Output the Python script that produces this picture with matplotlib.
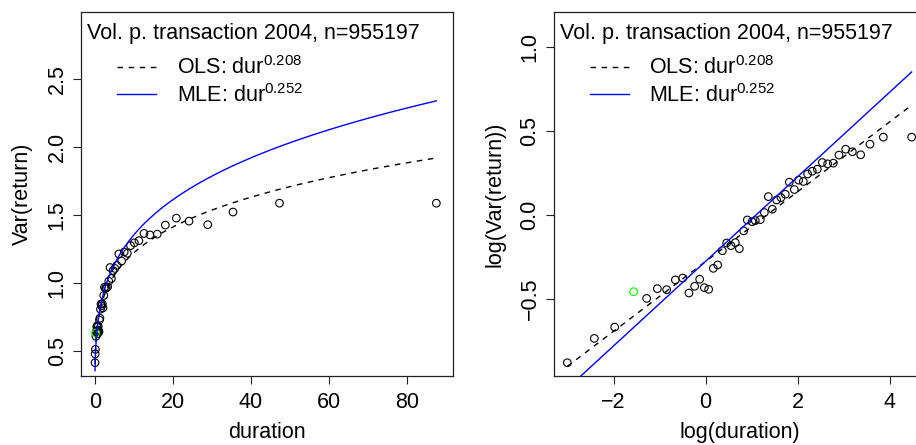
import numpy as np
import matplotlib
matplotlib.use("Agg")
import matplotlib.pyplot as plt

plt.rcParams["font.family"] = ["Liberation Sans", "DejaVu Sans"]
plt.rcParams["mathtext.fontset"] = "custom"
plt.rcParams["mathtext.rm"] = "Liberation Sans"
plt.rcParams["mathtext.it"] = "Liberation Sans:italic"
plt.rcParams["mathtext.bf"] = "Liberation Sans:bold"

# binned log(duration) / log(variance of returns)
log_duration = [-3.003, -2.417, -1.975, -1.281, -1.049, -0.847, -0.658, -0.499,
                -0.362, -0.239, -0.130, -0.029, 0.065, 0.166, 0.260, 0.362,
                0.456, 0.550, 0.644, 0.731, 0.825, 0.904, 1.006, 1.078,
                1.187, 1.274, 1.360, 1.447, 1.541, 1.635, 1.729, 1.816,
                1.925, 2.019, 2.120, 2.214, 2.315, 2.424, 2.533, 2.648,
                2.771, 2.894, 3.039, 3.184, 3.365, 3.567, 3.857, 4.472]
log_var = [-0.882, -0.737, -0.670, -0.499, -0.441, -0.447, -0.389, -0.378,
           -0.467, -0.427, -0.385, -0.435, -0.445, -0.320, -0.300, -0.215,
           -0.169, -0.185, -0.167, -0.203, -0.097, -0.032, -0.042, -0.036,
           -0.030, 0.012, 0.107, 0.032, 0.087, 0.101, 0.121, 0.193,
           0.149, 0.205, 0.197, 0.242, 0.258, 0.270, 0.310, 0.302,
           0.306, 0.354, 0.389, 0.374, 0.356, 0.419, 0.461, 0.461]

# highlighted bin
hl_log_duration = [-1.563]
hl_log_var = [-0.459]

# fitted power laws: Var = exp(c) * dur^b
ols_const, ols_exp = -0.279, 0.208
mle_const, mle_exp = -0.278, 0.252

title = "Vol. p. transaction 2004, n=955197"
ols_label = r"OLS: dur$^{0.208}$"
mle_label = r"MLE: dur$^{0.252}$"

log_duration = np.array(log_duration)
log_var = np.array(log_var)
dur = np.exp(log_duration)
var = np.exp(log_var)

all_ld = np.concatenate([log_duration, hl_log_duration])
grid = np.geomspace(np.exp(all_ld.min()), np.exp(all_ld.max()), 400)
ols_fit = np.exp(ols_const) * grid ** ols_exp
mle_fit = np.exp(mle_const) * grid ** mle_exp

fs = 15.5
fig = plt.figure(figsize=(9.16, 4.45), dpi=100)
ax1 = fig.add_axes([81 / 916, 69 / 445, 372 / 916, 364 / 445])
ax2 = fig.add_axes([553.7 / 916, 69 / 445, 372 / 916, 364 / 445])


def style(ax):
    for sp in ax.spines.values():
        sp.set_linewidth(0.9)
        sp.set_color("#222222")
    ax.tick_params(direction="out", length=6, width=0.8, labelsize=fs,
                   color="#222222")
    ax.tick_params(axis="x", pad=5.5)
    ax.tick_params(axis="y", pad=3.5, labelrotation=90)
    for lab in ax.get_yticklabels():
        lab.set_va("center")


def add_key(ax):
    ax.text(0.016, 0.926, title, transform=ax.transAxes, fontsize=fs,
            ha="left", va="baseline")
    ax.legend(loc="upper left", bbox_to_anchor=(0.098, 0.878), frameon=False,
              fontsize=fs, handlelength=1.8, handletextpad=0.95,
              borderpad=0, borderaxespad=0, labelspacing=0.2)


# left panel: raw scale
ax1.scatter(dur, var, s=30, facecolors="none", edgecolors="black",
            linewidths=0.8, zorder=2)
ax1.scatter(np.exp(hl_log_duration), np.exp(hl_log_var), s=30,
            facecolors="none", edgecolors="#00ff00", linewidths=0.8, zorder=2)
ax1.plot(grid, ols_fit, color="black", lw=1.0, ls=(0, (4, 4)), label=ols_label,
         zorder=3)
ax1.plot(grid, mle_fit, color="#0000ff", lw=1.0, label=mle_label, zorder=3)
ax1.set_xlim(-3.55, 91.8)
ax1.set_ylim(0.316, 2.99)
ax1.set_xticks([0, 20, 40, 60, 80])
ax1.set_yticks([0.5, 1.0, 1.5, 2.0, 2.5])
ax1.set_yticklabels(["0.5", "1.0", "1.5", "2.0", "2.5"])
ax1.set_xlabel("duration", fontsize=fs, va="center")
ax1.set_ylabel("Var(return)", fontsize=fs, va="center")
ax1.xaxis.set_label_coords(0.5, -0.154)
ax1.yaxis.set_label_coords(-0.157, 0.5)
style(ax1)
add_key(ax1)

# right panel: log-log
ax2.scatter(log_duration, log_var, s=30, facecolors="none", edgecolors="black",
            linewidths=0.8, zorder=2)
ax2.scatter(hl_log_duration, hl_log_var, s=30, facecolors="none",
            edgecolors="#00ff00", linewidths=0.8, zorder=2)
ax2.plot(np.log(grid), np.log(ols_fit), color="black", lw=1.0, ls=(0, (4, 4)),
         label=ols_label, zorder=3)
ax2.plot(np.log(grid), np.log(mle_fit), color="#0000ff", lw=1.0,
         label=mle_label, zorder=3)
ax2.set_xlim(-3.299, 4.777)
ax2.set_ylim(-0.961, 1.206)
ax2.set_xticks([-2, 0, 2, 4])
ax2.set_yticks([-0.5, 0.0, 0.5, 1.0])
ax2.set_yticklabels(["\u22120.5", "0.0", "0.5", "1.0"])
ax2.set_xlabel("log(duration)", fontsize=fs, va="center")
ax2.set_ylabel("log(Var(return))", fontsize=fs, va="center")
ax2.xaxis.set_label_coords(0.5, -0.154)
ax2.yaxis.set_label_coords(-0.158, 0.5)
style(ax2)
add_key(ax2)

fig.savefig("out.png", dpi=100)
